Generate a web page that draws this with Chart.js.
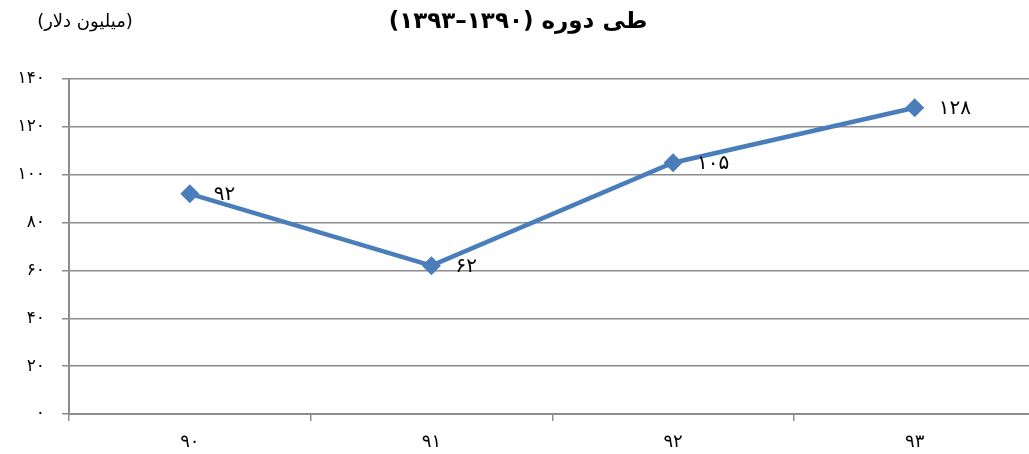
<!DOCTYPE html>
<html lang="fa">
<head>
<meta charset="utf-8">
<script src="https://cdn.jsdelivr.net/npm/chart.js@4.4.1/dist/chart.umd.min.js"></script>
<style>
  html, body { margin: 0; padding: 0; background: #fff; overflow: hidden; }
  #wrap { position: relative; width: 1045px; height: 454px; }
</style>
</head>
<body>
<div id="wrap"><canvas id="c" width="1045" height="454"></canvas></div>
<script>
// Years (Persian calendar, short form) and values in million dollars
const categories = ['۹۰', '۹۱', '۹۲', '۹۳'];
const values = [92, 62, 105, 128];
const valueLabels = ['۹۲', '۶۲', '۱۰۵', '۱۲۸'];
const yTickLabels = ['۰', '۲۰', '۴۰', '۶۰', '۸۰', '۱۰۰', '۱۲۰', '۱۴۰'];
const titleText = 'طی دوره (۱۳۹۰–۱۳۹۳)';
const unitText = '(میلیون دلار)';

const FONT = '"DejaVu Sans", "Noto Sans", sans-serif';
const LINE_COLOR = '#4A7EBB';
const GRID_COLOR = '#8C8C8C';

// Title, unit caption and value labels beside each point
const annotate = {
  id: 'annotate',
  afterDatasetsDraw(chart) {
    const ctx = chart.ctx;
    ctx.save();
    ctx.fillStyle = '#000';
    ctx.direction = 'rtl';
    ctx.textAlign = 'center';
    ctx.textBaseline = 'middle';
    ctx.font = 'bold 23px ' + FONT;
    ctx.fillText(titleText, 518, 22);
    ctx.font = '18px ' + FONT;
    ctx.fillText(unitText, 85, 22);

    ctx.direction = 'ltr';
    ctx.textAlign = 'left';
    ctx.font = '20px ' + FONT;
    const pts = chart.getDatasetMeta(0).data;
    pts.forEach((p, i) => {
      ctx.fillText(valueLabels[i], p.x + 24, p.y + 1);
    });
    ctx.restore();
  }
};

new Chart(document.getElementById('c'), {
  type: 'line',
  data: {
    labels: categories,
    datasets: [{
      data: values,
      borderColor: LINE_COLOR,
      backgroundColor: LINE_COLOR,
      borderWidth: 4.5,
      pointStyle: 'rectRot',
      pointRadius: 9.5,
      pointHoverRadius: 9.5,
      pointBackgroundColor: LINE_COLOR,
      pointBorderColor: LINE_COLOR,
      pointBorderWidth: 0,
      tension: 0
    }]
  },
  options: {
    responsive: false,
    animation: false,
    devicePixelRatio: 1,
    layout: { padding: { top: 79, right: 8, left: 0, bottom: 0 } },
    plugins: {
      legend: { display: false },
      title: { display: false },
      tooltip: { enabled: false }
    },
    scales: {
      x: {
        offset: true,
        grid: {
          offset: true,
          drawOnChartArea: false,
          drawTicks: true,
          tickLength: 7,
          color: GRID_COLOR,
          lineWidth: 1.5
        },
        border: { color: GRID_COLOR, width: 2 },
        ticks: {
          color: '#000',
          font: { family: FONT, size: 18 },
          padding: 11,
          maxRotation: 0
        },
        afterFit(scale) { scale.height = 40; }
      },
      y: {
        min: 0,
        max: 140,
        grid: {
          color: GRID_COLOR,
          lineWidth: 1.5,
          drawTicks: true,
          tickLength: 7
        },
        border: { color: GRID_COLOR, width: 2 },
        ticks: {
          stepSize: 20,
          color: '#000',
          font: { family: FONT, size: 17 },
          padding: 17,
          callback: (v) => yTickLabels[Math.round(v / 20)]
        },
        afterFit(scale) { scale.width = 69; }
      }
    }
  },
  plugins: [annotate]
});
</script>
</body>
</html>
